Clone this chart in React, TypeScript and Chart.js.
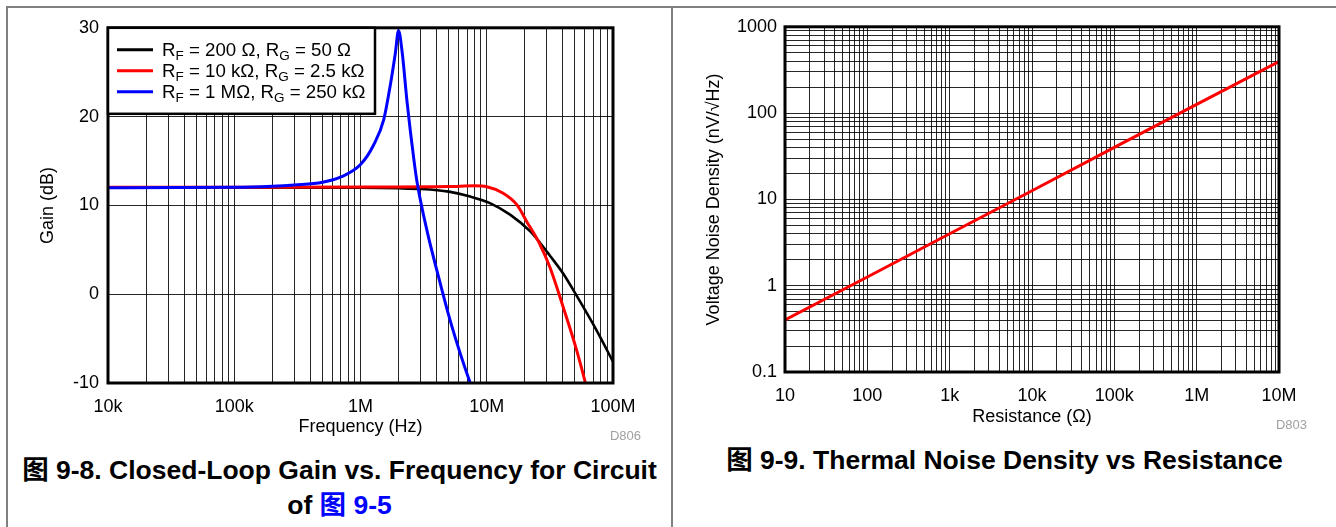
import React, { useEffect, useRef } from 'react';
import { Chart, registerables } from 'chart.js';

Chart.register(...registerables);

const FONT = '"Liberation Sans", Arial, Helvetica, sans-serif';
const CAPTION_FONT = '"Liberation Sans", Arial, Helvetica, "Noto Sans CJK SC", sans-serif';
const GRID = 'rgba(0,0,0,0.85)';

// ---------- Figure 9-8 data ----------
const freqTickValues = [1e4, 1e5, 1e6, 1e7, 1e8];
const freqTickLabels = ['10k', '100k', '1M', '10M', '100M'];
const gainTickValues = [-10, 0, 10, 20, 30];
const gainTickLabels = ['-10', '0', '10', '20', '30'];

const blackFreq = [1e4, 1e5, 1e6, 2e6, 3e6, 5e6, 7.4e6, 1.06e7, 1.53e7, 2.2e7, 2.64e7, 3.2e7, 4.04e7, 5.15e7, 7.43e7, 1e8];
const blackGain = [12, 12, 11.98, 11.93, 11.85, 11.55, 11.0, 10.26, 8.96, 7.1, 5.8, 4.25, 2.3, -0.17, -4.1, -7.6];

const redFreq = [1e4, 1e5, 1e6, 5e6, 8e6, 1e7, 1.35e7, 1.73e7, 2.07e7, 2.64e7, 3.17e7, 4.04e7, 5.15e7, 6.05e7, 6.5e7];
const redGain = [12.05, 12.05, 12.07, 12.12, 12.2, 12.1, 11.37, 10.08, 8.2, 5.6, 3.0, -1.5, -6.3, -10, -11.8];

const blueFreq = [1e4, 1e5, 2e5, 3e5, 5e5, 7e5, 1e6, 1.27e6, 1.53e6, 1.72e6, 1.89e6, 2.0e6, 2.14e6, 2.34e6, 2.64e6, 2.8e6, 3.37e6, 4.04e6, 5.14e6, 7.4e6, 8e6];
const blueGain = [12, 12.03, 12.15, 12.3, 12.6, 13.2, 14.6, 16.8, 19.7, 23.5, 27.2, 29.7, 27.2, 21.6, 15.3, 12.7, 7.1, 2.6, -3.0, -10, -11.2];

const seriesLegend = ['R_F = 200 Ω, R_G = 50 Ω', 'R_F = 10 kΩ, R_G = 2.5 kΩ', 'R_F = 1 MΩ, R_G = 250 kΩ'];
const seriesPlain = ['RF = 200 Ω, RG = 50 Ω', 'RF = 10 kΩ, RG = 2.5 kΩ', 'RF = 1 MΩ, RG = 250 kΩ'];
const seriesColors = ['#000000', '#ff0000', '#0000ff'];

// ---------- Figure 9-9 data ----------
const resTickValues = [10, 100, 1e3, 1e4, 1e5, 1e6, 1e7];
const resTickLabels = ['10', '100', '1k', '10k', '100k', '1M', '10M'];
const noiseTickValues = [0.1, 1, 10, 100, 1000];
const noiseTickLabels = ['0.1', '1', '10', '100', '1000'];

const resistance = [10, 100, 1e3, 1e4, 1e5, 1e6, 1e7];
const noiseDensity = [0.4, 1.26, 4.0, 12.6, 40, 126, 395];

// ---------- helpers ----------
function logGrid(min: number, max: number): number[] {
  const out: number[] = [];
  const e0 = Math.round(Math.log10(min));
  const e1 = Math.round(Math.log10(max));
  for (let e = e0; e < e1; e++) {
    for (let m = 1; m < 10; m++) out.push(m * Math.pow(10, e));
  }
  out.push(max);
  return out;
}

function labelFor(values: number[], labels: string[], v: number): string {
  const i = values.findIndex((t) => Math.abs(t - v) <= Math.abs(t) * 1e-6 + 1e-12);
  return i >= 0 ? labels[i] : '';
}

const tickFont = { family: FONT, size: 18 };
const titleFont = { family: FONT, size: 18 };

function logAxis(min: number, max: number, majors: number[], labels: string[], opts: any) {
  return {
    type: 'logarithmic',
    min,
    max,
    afterBuildTicks: (s: any) => {
      s.ticks = logGrid(min, max).map((v) => ({ value: v }));
    },
    ticks: {
      autoSkip: false,
      maxRotation: 0,
      minRotation: 0,
      padding: opts.tickPadding,
      color: '#000',
      font: tickFont,
      callback: (v: any) => labelFor(majors, labels, Number(v)),
    },
    grid: { color: GRID, lineWidth: 1, drawTicks: false },
    border: { display: false },
    title: {
      display: true,
      text: opts.title,
      color: '#000',
      font: titleFont,
      padding: opts.titlePadding,
    },
    afterFit: opts.afterFit,
  };
}

function drawRich(ctx: CanvasRenderingContext2D, text: string, x: number, baseline: number) {
  const parts = text.split(/(_.)/);
  let cx = x;
  for (const p of parts) {
    if (!p) continue;
    if (p[0] === '_' && p.length === 2) {
      ctx.font = `13.5px ${FONT}`;
      ctx.fillText(p[1], cx, baseline + 4);
      cx += ctx.measureText(p[1]).width;
    } else {
      ctx.font = `18.7px ${FONT}`;
      ctx.fillText(p, cx, baseline);
      cx += ctx.measureText(p).width;
    }
  }
}

const framePlugin = {
  id: 'plotFrame',
  afterDraw(chart: any) {
    const { ctx, chartArea: a } = chart;
    ctx.save();
    ctx.strokeStyle = '#000';
    ctx.lineWidth = 3;
    ctx.strokeRect(a.left, a.top, a.right - a.left, a.bottom - a.top);
    ctx.restore();
  },
};

const richLegendPlugin = {
  id: 'richLegend',
  afterDraw(chart: any) {
    const { ctx, chartArea: a } = chart;
    const bx = a.left;
    const by = a.top;
    const bw = 267;
    const bh = 86;
    ctx.save();
    ctx.fillStyle = '#fff';
    ctx.fillRect(bx, by, bw, bh);
    ctx.strokeStyle = '#000';
    ctx.lineWidth = 2.5;
    ctx.strokeRect(bx, by, bw, bh);
    seriesLegend.forEach((lbl, i) => {
      const y = by + 22 + i * 21;
      ctx.strokeStyle = seriesColors[i];
      ctx.lineWidth = 3;
      ctx.beginPath();
      ctx.moveTo(bx + 9, y);
      ctx.lineTo(bx + 45, y);
      ctx.stroke();
      ctx.fillStyle = '#000';
      ctx.textBaseline = 'alphabetic';
      ctx.textAlign = 'left';
      drawRich(ctx, lbl, bx + 54, y + 6.5);
    });
    ctx.restore();
  },
};

function GainChart() {
  const ref = useRef<HTMLCanvasElement>(null);
  useEffect(() => {
    const mk = (fs: number[], gs: number[]) => fs.map((f, i) => ({ x: f, y: gs[i] }));
    const chart = new Chart(ref.current as HTMLCanvasElement, {
      type: 'line',
      data: {
        datasets: [
          { label: seriesPlain[0], data: mk(blackFreq, blackGain), borderColor: seriesColors[0], borderWidth: 2.6, pointRadius: 0, cubicInterpolationMode: 'monotone', fill: false, order: 2 },
          { label: seriesPlain[1], data: mk(redFreq, redGain), borderColor: seriesColors[1], borderWidth: 3, pointRadius: 0, cubicInterpolationMode: 'monotone', fill: false, order: 1 },
          { label: seriesPlain[2], data: mk(blueFreq, blueGain), borderColor: seriesColors[2], borderWidth: 3, pointRadius: 0, cubicInterpolationMode: 'monotone', fill: false, order: 0 },
        ],
      } as any,
      options: {
        responsive: false,
        animation: false,
        devicePixelRatio: 1,
        layout: { padding: { left: 0, top: 17, right: 58, bottom: 0 } },
        plugins: { legend: { display: false }, tooltip: { enabled: false }, title: { display: false } },
        scales: {
          x: logAxis(1e4, 1e8, freqTickValues, freqTickLabels, {
            tickPadding: 13,
            title: 'Frequency (Hz)',
            titlePadding: { top: 0, bottom: 10 },
            afterFit: (s: any) => { s.height = 65; },
          }),
          y: {
            type: 'linear',
            min: -10,
            max: 30,
            afterBuildTicks: (s: any) => { s.ticks = gainTickValues.map((v) => ({ value: v })); },
            ticks: {
              padding: 9,
              color: '#000',
              font: tickFont,
              callback: (v: any) => labelFor(gainTickValues, gainTickLabels, Number(v)),
            },
            grid: { color: GRID, lineWidth: 1, drawTicks: false },
            border: { display: false },
            title: { display: true, text: 'Gain (dB)', color: '#000', font: titleFont, padding: { top: 29, bottom: 0 } },
            afterFit: (s: any) => { s.width = 100; },
          },
        } as any,
      },
      plugins: [framePlugin, richLegendPlugin],
    });
    return () => chart.destroy();
  }, []);
  return <canvas ref={ref} width={663} height={440} style={{ position: 'absolute', left: 8, top: 8, width: 663, height: 440 }} />;
}

function NoiseChart() {
  const ref = useRef<HTMLCanvasElement>(null);
  useEffect(() => {
    const chart = new Chart(ref.current as HTMLCanvasElement, {
      type: 'line',
      data: {
        datasets: [
          {
            label: 'Thermal noise density',
            data: resistance.map((r, i) => ({ x: r, y: noiseDensity[i] })),
            borderColor: '#ff0000',
            borderWidth: 3,
            pointRadius: 0,
            fill: false,
          },
        ],
      } as any,
      options: {
        responsive: false,
        animation: false,
        devicePixelRatio: 1,
        layout: { padding: { left: 0, top: 17, right: 57, bottom: 0 } },
        plugins: { legend: { display: false }, tooltip: { enabled: false }, title: { display: false } },
        scales: {
          x: logAxis(10, 1e7, resTickValues, resTickLabels, {
            tickPadding: 13,
            title: 'Resistance (Ω)',
            titlePadding: { top: 0, bottom: 10 },
            afterFit: (s: any) => { s.height = 66; },
          }),
          y: logAxis(0.1, 1000, noiseTickValues, noiseTickLabels, {
            tickPadding: 8,
            title: 'Voltage Noise Density (nV/√Hz)',
            titlePadding: { top: 30, bottom: 0 },
            afterFit: (s: any) => { s.width = 112; },
          }),
        } as any,
      },
      plugins: [framePlugin],
    });
    return () => chart.destroy();
  }, []);
  return <canvas ref={ref} width={663} height={430} style={{ position: 'absolute', left: 673, top: 8, width: 663, height: 430 }} />;
}

export default function App() {
  const line = '#808080';
  const captionStyle: React.CSSProperties = {
    position: 'absolute',
    width: 663,
    textAlign: 'center',
    fontFamily: CAPTION_FONT,
    fontWeight: 'bold',
    fontSize: 26.5,
    lineHeight: '35px',
    color: '#000',
    whiteSpace: 'nowrap',
  };
  const codeStyle: React.CSSProperties = {
    position: 'absolute',
    width: 80,
    textAlign: 'right',
    fontFamily: FONT,
    fontSize: 13,
    lineHeight: '16px',
    color: '#a0a0a0',
  };
  return (
    <div style={{ position: 'absolute', left: 0, top: 0, width: 1336, height: 527, background: '#fff', overflow: 'hidden' }}>
      <div style={{ position: 'absolute', left: 6, top: 6, width: 1330, height: 2, background: line }} />
      <div style={{ position: 'absolute', left: 6, top: 6, width: 2, height: 521, background: line }} />
      <div style={{ position: 'absolute', left: 671, top: 6, width: 2, height: 521, background: line }} />
      <GainChart />
      <NoiseChart />
      <div style={{ ...codeStyle, left: 561, top: 428 }}>D806</div>
      <div style={{ ...codeStyle, left: 1227, top: 417 }}>D803</div>
      <div style={{ ...captionStyle, left: 8, top: 453 }}>
        <div>图 9-8. Closed-Loop Gain vs. Frequency for Circuit</div>
        <div>
          of <span style={{ color: '#0000ff' }}>图 9-5</span>
        </div>
      </div>
      <div style={{ ...captionStyle, left: 673, top: 443 }}>
        <div>图 9-9. Thermal Noise Density vs Resistance</div>
      </div>
    </div>
  );
}
